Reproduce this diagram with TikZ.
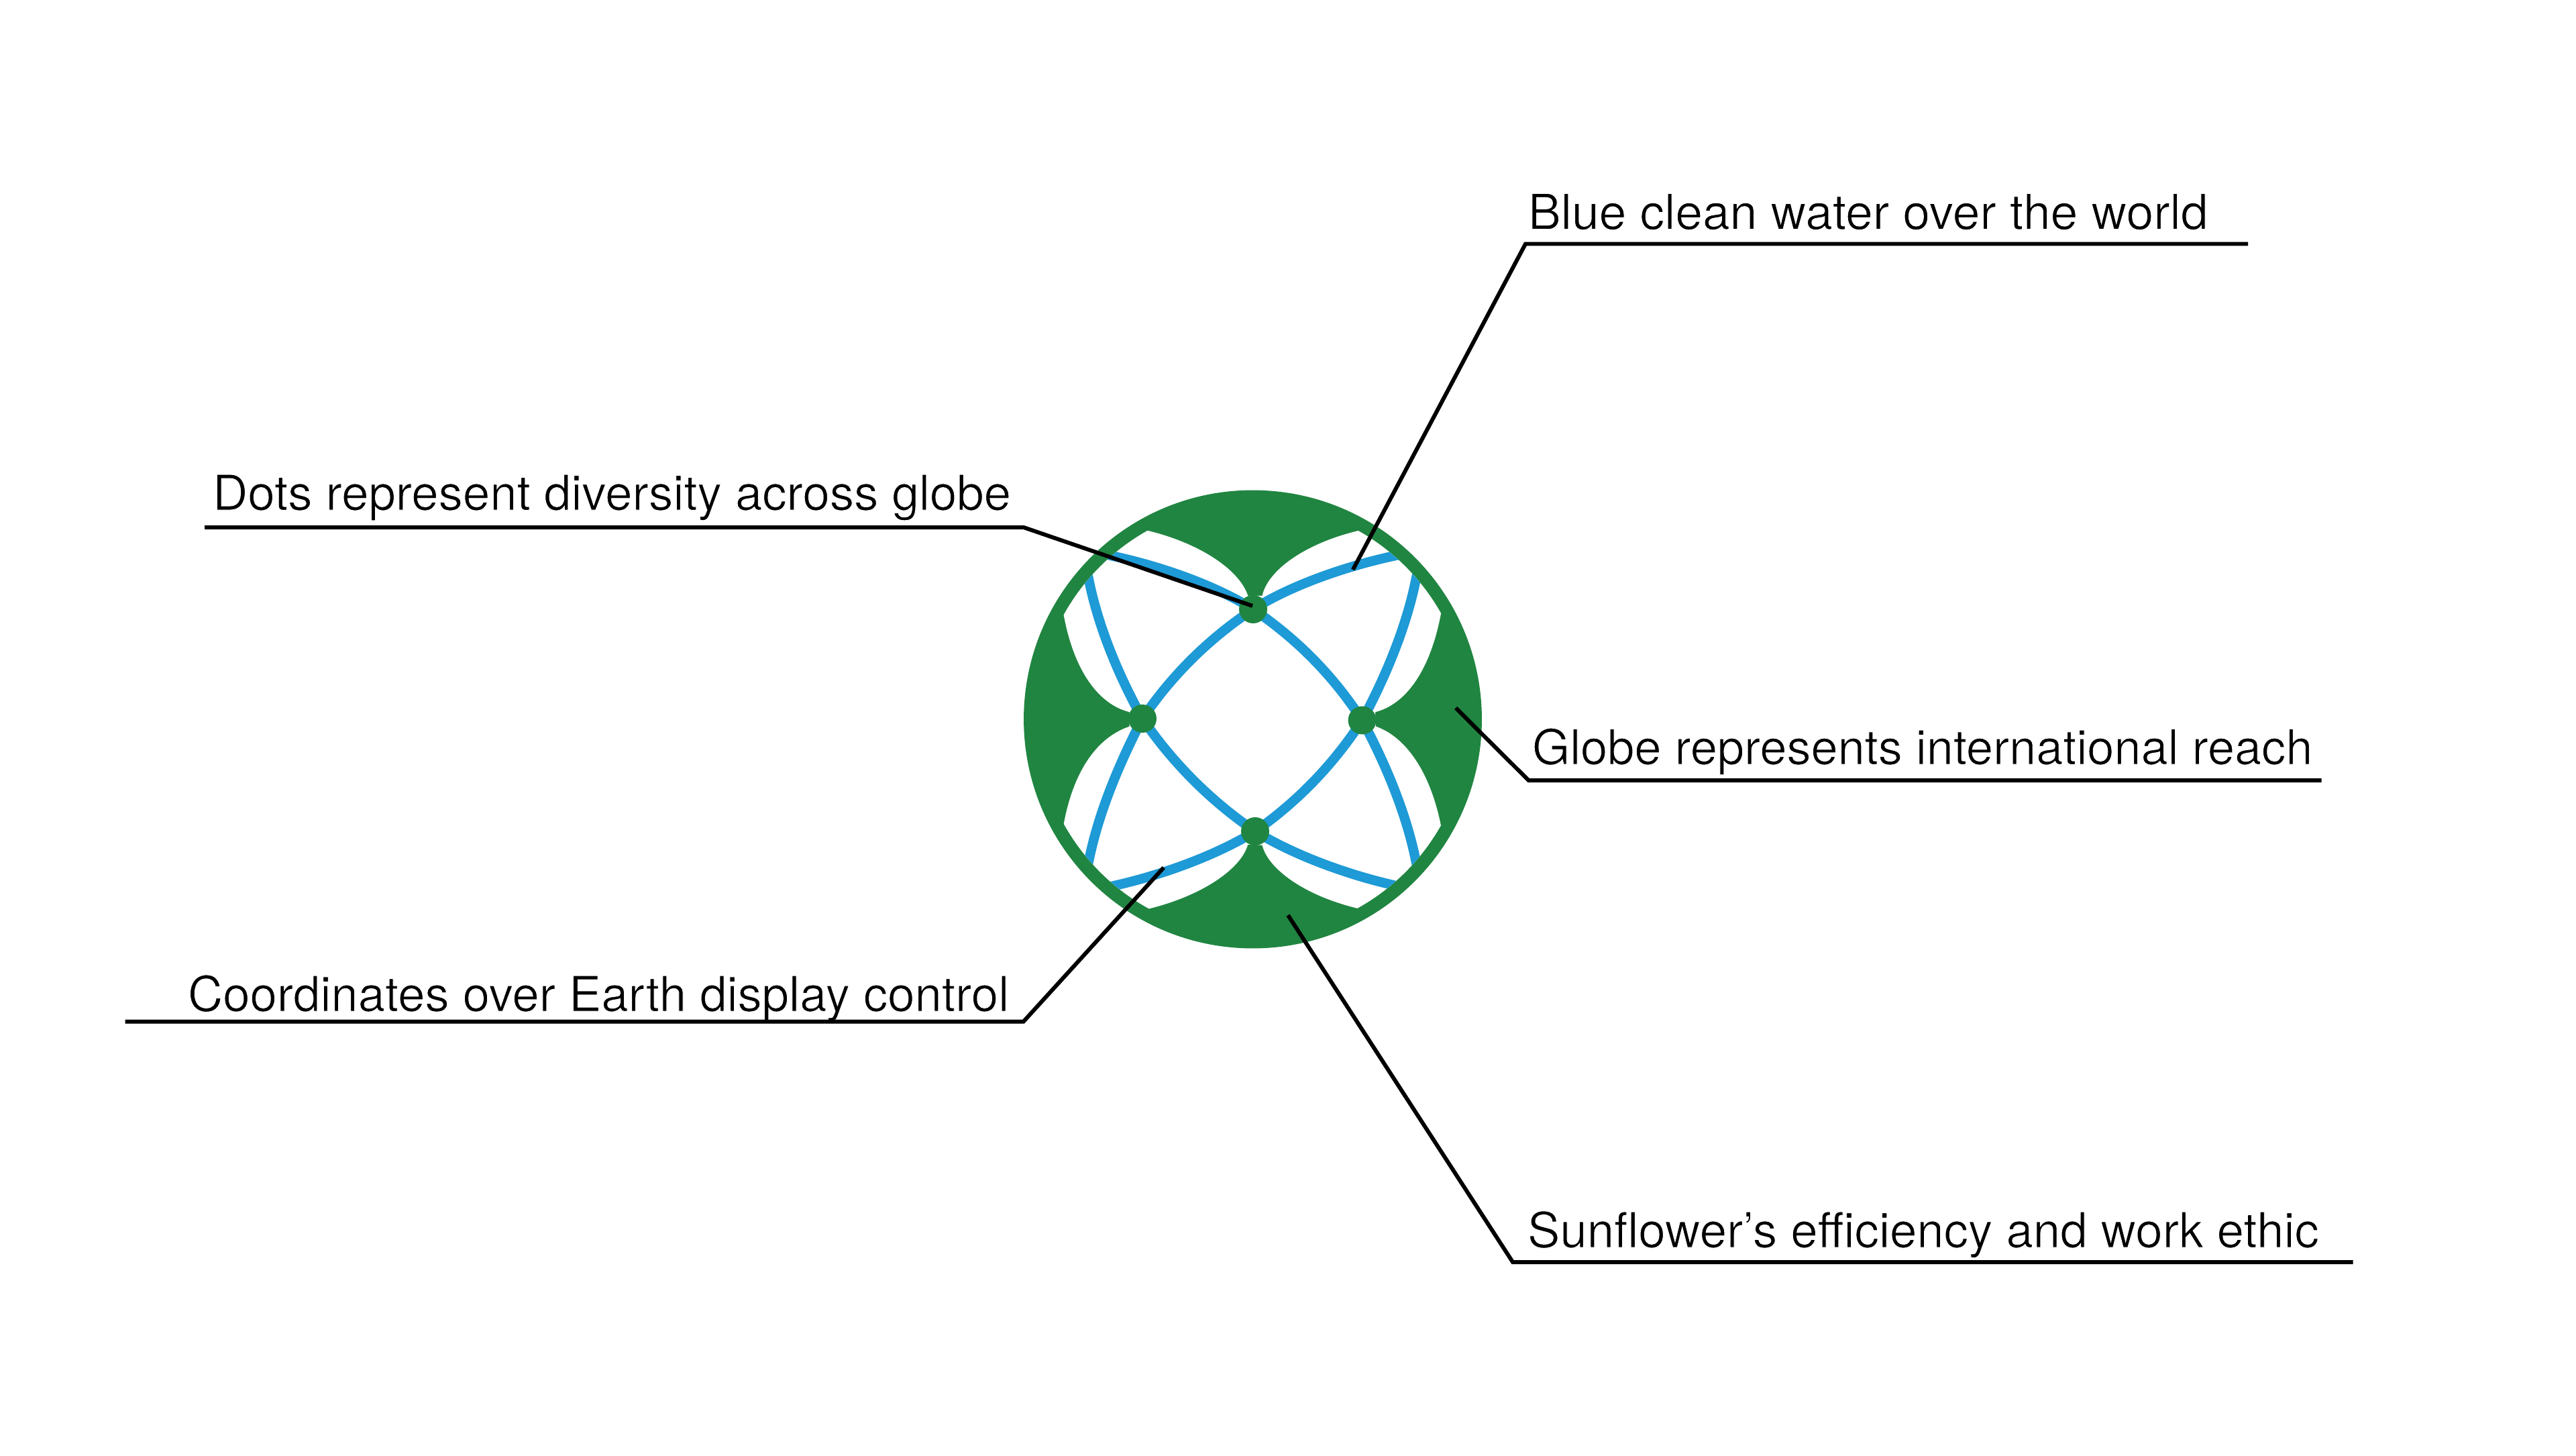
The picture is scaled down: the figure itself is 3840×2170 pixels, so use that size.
\documentclass[tikz,border=0pt]{standalone}
\usepackage{fontspec}
\setmainfont{TeX Gyre Heros}
\definecolor{globegreen}{HTML}{208541}
\definecolor{waterblue}{HTML}{1E9AD6}
\newcommand{\lighttext}[1]{\special{pdf:code q 2 Tr 0.55 w 1 1 1 RG}#1\special{pdf:code Q}}
\tikzset{
  lab/.style={anchor=base west,inner sep=0pt,outer sep=0pt,font=\fontsize{#1}{#1}\selectfont,text=black},
  leader/.style={draw=black,line width=3.4pt},
  water/.style={draw=waterblue,line width=8.2pt},
  dotnode/.style={circle,fill=globegreen,draw=none,minimum size=0.84cm,inner sep=0pt}
}
\begin{document}
\begin{tikzpicture}[x=0.02cm,y=-0.02cm]
\useasboundingbox (0,0) rectangle (3840,2170);
\fill[white] (0,0) rectangle (3840,2170);
\coordinate (C) at (1867.5,1072);
\fill[globegreen] (C) circle[radius=6.83cm];
\begin{scope}
\clip (C) circle[radius=6.44cm];
\fill[white] (1881.6,887.8) .. controls (1890,850) and (1945,810) .. (2025.5,790.8)
  -- (2150.5,789) -- (2148,914.3)
  .. controls (2132,1000) and (2095,1050) .. (2050,1061.2)
  -- (2051,1082.7)
  .. controls (2095,1098) and (2132,1150) .. (2148,1230.6)
  -- (2150.5,1355) -- (2024.5,1354)
  .. controls (1945,1335) and (1890,1295) .. (1881.6,1259.7)
  -- (1860.2,1258.7)
  .. controls (1850,1295) and (1792,1335) .. (1711.7,1354.6)
  -- (1584.5,1355) -- (1585.7,1228)
  .. controls (1601,1145) and (1638,1098) .. (1683.7,1082.7)
  -- (1683.7,1061.2)
  .. controls (1638,1050) and (1601,1000) .. (1585.7,916.8)
  -- (1584.5,789) -- (1710.7,790.8)
  .. controls (1790,810) and (1848,850) .. (1860.2,887.8) -- cycle;
\node[dotnode,fill=none] (T) at (1868,908) {};
\node[dotnode,fill=none] (R) at (2030.6,1073.5) {};
\node[dotnode,fill=none] (B) at (1871,1239) {};
\node[dotnode,fill=none] (L) at (1703,1071) {};
\draw[water] (T.center) .. controls (1933,952) and (1987.5,1007) .. (R.center);
\draw[water] (R.center) .. controls (1988,1139) and (1935,1194) .. (B.center);
\draw[water] (B.center) .. controls (1804.5,1193.5) and (1748.5,1137.5) .. (L.center);
\draw[water] (L.center) .. controls (1747.5,1005.5) and (1802.5,951.5) .. (T.center);
\draw[water] (T.center) .. controls (1925,872) and (2010,842) .. (2090,826);
\draw[water] (T.center) .. controls (1811,872) and (1726,842) .. (1646,826);
\draw[water] (R.center) .. controls (2070,1000) and (2102,920) .. (2114,845);
\draw[water] (R.center) .. controls (2070,1147) and (2102,1227) .. (2114,1302);
\draw[water] (B.center) .. controls (1928,1274) and (2010,1305) .. (2090,1322);
\draw[water] (B.center) .. controls (1814,1274) and (1732,1305) .. (1652,1322);
\draw[water] (L.center) .. controls (1663.6,1000) and (1631.6,920) .. (1619.6,845);
\draw[water] (L.center) .. controls (1663.6,1147) and (1631.6,1227) .. (1619.6,1302);
\end{scope}
\node[dotnode] (Tdot) at (T) {};
\node[dotnode] (Rdot) at (R) {};
\node[dotnode] (Bdot) at (B) {};
\node[dotnode] (Ldot) at (L) {};
% labels
\node[lab=41.6] (water) at (2278,341.7) {\lighttext{Blue clean water over the world}};
\node[lab=41.05] (globe) at (2284,1139) {\lighttext{Globe represents international reach}};
\node[lab=41.3] (sun) at (2277,1859) {\lighttext{Sunflower’s efficiency and work ethic}};
\node[lab=41.3] (dots) at (317,760) {\lighttext{Dots represent diversity across globe}};
\node[lab=41.25] (coord) at (280,1507) {\lighttext{Coordinates over Earth display control}};
% leaders
\coordinate (w0) at (2016.8,849);
\coordinate (w1) at (2274,363.5);
\coordinate (w2) at (3351,363.5);
\draw[leader] (w0) -- (w1) -- (w2);
\coordinate (g0) at (2170,1055);
\coordinate (g1) at (2278.6,1163);
\coordinate (g2) at (3460.7,1163);
\draw[leader] (g0) -- (g1) -- (g2);
\coordinate (s0) at (1920,1364);
\coordinate (s1) at (2255,1881);
\coordinate (s2) at (3507.5,1881);
\draw[leader] (s0) -- (s1) -- (s2);
\coordinate (d0) at (1867,903);
\coordinate (d1) at (1526,786);
\coordinate (d2) at (305,786);
\draw[leader] (d0) -- (d1) -- (d2);
\coordinate (c0) at (1734.7,1293);
\coordinate (c1) at (1525.5,1522.7);
\coordinate (c2) at (186.6,1522.7);
\draw[leader] (c0) -- (c1) -- (c2);
\end{tikzpicture}
\end{document}
